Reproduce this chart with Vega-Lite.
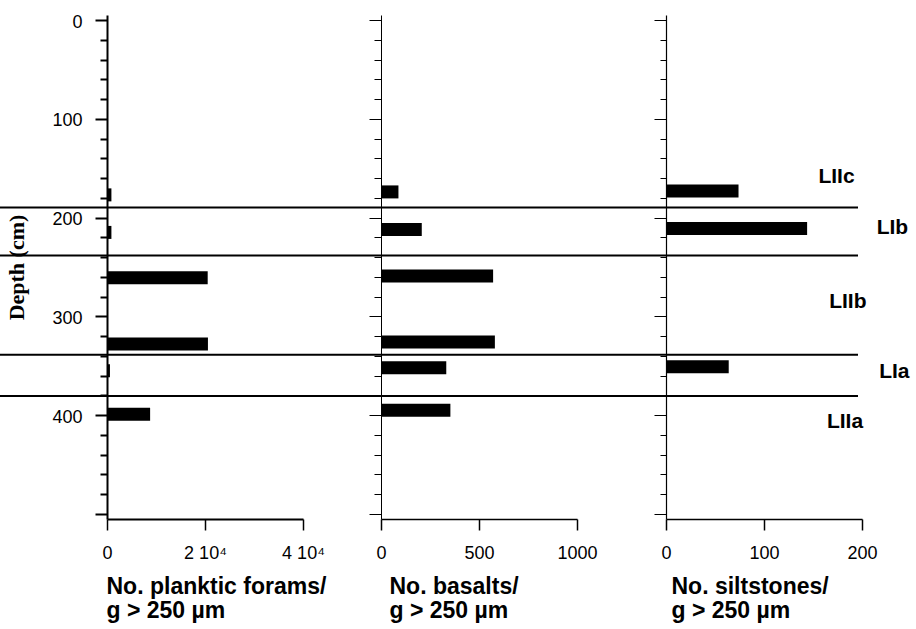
{
  "$schema": "https://vega.github.io/schema/vega-lite/v6.json",
  "width": 858,
  "height": 504,
  "autosize": "none",
  "padding": {"left": 0, "top": 15, "right": 58, "bottom": 110},
  "background": "white",
  "config": {
    "view": {"stroke": null},
    "font": "Liberation Sans",
    "axis": {
      "grid": false,
      "domainColor": "black",
      "tickColor": "black",
      "labelColor": "black",
      "titleColor": "black",
      "labelFont": "Liberation Sans",
      "labelFontSize": 18,
      "labelFlush": false,
      "labelOverlap": false,
      "labelBound": false
    }
  },
  "datasets": {
    "forams": [
      {"depth": 177, "count": 900},
      {"depth": 215, "count": 900},
      {"depth": 261, "count": 20550},
      {"depth": 328, "count": 20600},
      {"depth": 355, "count": 600},
      {"depth": 399, "count": 8800}
    ],
    "basalts": [
      {"depth": 174, "count": 89},
      {"depth": 212, "count": 208},
      {"depth": 259, "count": 572},
      {"depth": 326, "count": 581},
      {"depth": 352, "count": 333},
      {"depth": 395, "count": 354}
    ],
    "siltstones": [
      {"depth": 173, "count": 74},
      {"depth": 211, "count": 144},
      {"depth": 351, "count": 64}
    ],
    "bounds": [
      {"depth": 191},
      {"depth": 238.5},
      {"depth": 337},
      {"depth": 378}
    ],
    "units": [
      {"unit": "LIIc", "depth": 161, "pos": 174},
      {"unit": "LIb", "depth": 211.5, "pos": 231},
      {"unit": "LIIb", "depth": 285, "pos": 185.5},
      {"unit": "LIa", "depth": 354.5, "pos": 233},
      {"unit": "LIIa", "depth": 404, "pos": 182.7}
    ]
  },
  "layer": [
    {
      "data": {"name": "forams"},
      "mark": {"type": "bar", "orient": "horizontal", "size": 13, "color": "black"},
      "encoding": {
        "x": {
          "field": "count", "type": "quantitative",
          "scale": {"domain": [0, 40000], "range": [107, 303], "nice": false},
          "axis": {
            "orient": "bottom",
            "values": [0, 20000, 40000],
            "labelExpr": "datum.value === 0 ? '0' : (datum.value / 10000) + ' 10⁴'",
            "domainWidth": 2,
            "tickSize": 11,
            "tickWidth": 1.5,
            "labelPadding": 14,
            "title": ["No. planktic forams/", "g > 250 µm"],
            "titleFont": "Liberation Sans",
            "titleFontSize": 23,
            "titleFontWeight": "bold",
            "titleAlign": "left",
            "titleAnchor": "start",
            "titleBaseline": "alphabetic",
            "titleLineHeight": 24,
            "titleX": 106,
            "titleY": 74
          }
        },
        "y": {
          "field": "depth", "type": "quantitative",
          "scale": {"domain": [0, 500], "reverse": true, "nice": false},
          "axis": {
            "orient": "left",
            "offset": -107,
            "values": [0, 20, 40, 60, 80, 100, 120, 140, 160, 180, 200, 220, 240, 260, 280, 300, 320, 340, 360, 380, 400, 420, 440, 460, 480, 500],
            "labelExpr": "datum.value % 100 === 0 && datum.value < 500 ? datum.label : ''",
            "domainWidth": 2,
            "tickWidth": 2,
            "tickSize": {"condition": {"test": "datum.value % 100 === 0", "value": 12}, "value": 7},
            "labelPadding": 13,
            "labelOffset": 2,
            "title": "Depth (cm)",
            "titleFont": "Liberation Serif",
            "titleFontSize": 22,
            "titleFontWeight": "bold",
            "titleBaseline": "alphabetic",
            "titleX": -84,
            "titleAngle": -90
          }
        }
      }
    },
    {
      "data": {"name": "basalts"},
      "mark": {"type": "bar", "orient": "horizontal", "size": 13, "color": "black"},
      "encoding": {
        "x": {
          "field": "count", "type": "quantitative",
          "scale": {"domain": [0, 1000], "range": [381, 577], "nice": false},
          "axis": {
            "orient": "bottom",
            "values": [0, 500, 1000],
            "format": "d",
            "domainWidth": 1.5,
            "tickSize": 11,
            "tickWidth": 1.5,
            "labelPadding": 14,
            "title": ["No. basalts/", "g > 250 µm"],
            "titleFont": "Liberation Sans",
            "titleFontSize": 23,
            "titleFontWeight": "bold",
            "titleAlign": "left",
            "titleAnchor": "start",
            "titleBaseline": "alphabetic",
            "titleLineHeight": 24,
            "titleX": 389,
            "titleY": 74
          }
        },
        "y": {
          "field": "depth", "type": "quantitative",
          "scale": {"domain": [0, 500], "reverse": true, "nice": false},
          "axis": {
            "orient": "left",
            "offset": -381,
            "values": [0, 20, 40, 60, 80, 100, 120, 140, 160, 180, 200, 220, 240, 260, 280, 300, 320, 340, 360, 380, 400, 420, 440, 460, 480, 500],
            "labels": false,
            "domainWidth": 1,
            "tickWidth": 1,
            "tickSize": {"condition": {"test": "datum.value % 100 === 0", "value": 12}, "value": 7},
            "title": null
          }
        }
      }
    },
    {
      "data": {"name": "siltstones"},
      "mark": {"type": "bar", "orient": "horizontal", "size": 13, "color": "black"},
      "encoding": {
        "x": {
          "field": "count", "type": "quantitative",
          "scale": {"domain": [0, 200], "range": [666, 862], "nice": false},
          "axis": {
            "orient": "bottom",
            "values": [0, 100, 200],
            "domainWidth": 1.5,
            "tickSize": 11,
            "tickWidth": 1.5,
            "labelPadding": 14,
            "title": ["No. siltstones/", "g > 250 µm"],
            "titleFont": "Liberation Sans",
            "titleFontSize": 23,
            "titleFontWeight": "bold",
            "titleAlign": "left",
            "titleAnchor": "start",
            "titleBaseline": "alphabetic",
            "titleLineHeight": 24,
            "titleX": 671,
            "titleY": 74
          }
        },
        "y": {
          "field": "depth", "type": "quantitative",
          "scale": {"domain": [0, 500], "reverse": true, "nice": false},
          "axis": {
            "orient": "left",
            "offset": -666,
            "values": [0, 20, 40, 60, 80, 100, 120, 140, 160, 180, 200, 220, 240, 260, 280, 300, 320, 340, 360, 380, 400, 420, 440, 460, 480, 500],
            "labels": false,
            "domainWidth": 1.2,
            "tickWidth": 1,
            "tickSize": {"condition": {"test": "datum.value % 100 === 0", "value": 12}, "value": 6},
            "title": null
          }
        }
      }
    },
    {
      "data": {"name": "bounds"},
      "mark": {"type": "rule", "color": "black", "strokeWidth": 2},
      "encoding": {
        "y": {
          "field": "depth", "type": "quantitative",
          "scale": {"domain": [0, 500], "reverse": true, "nice": false},
          "axis": null
        }
      }
    },
    {
      "data": {"name": "units"},
      "mark": {"type": "text", "font": "Liberation Sans", "fontSize": 21, "fontWeight": "bold", "align": "center", "baseline": "middle", "color": "black"},
      "encoding": {
        "x": {
          "field": "pos", "type": "quantitative",
          "scale": {"domain": [0, 200], "range": [666, 862], "nice": false, "zero": false},
          "axis": null
        },
        "y": {
          "field": "depth", "type": "quantitative",
          "scale": {"domain": [0, 500], "reverse": true, "nice": false},
          "axis": null
        },
        "text": {"field": "unit", "type": "nominal"}
      }
    }
  ],
  "resolve": {
    "scale": {"x": "independent", "y": "independent"},
    "axis": {"x": "independent", "y": "independent"}
  }
}
